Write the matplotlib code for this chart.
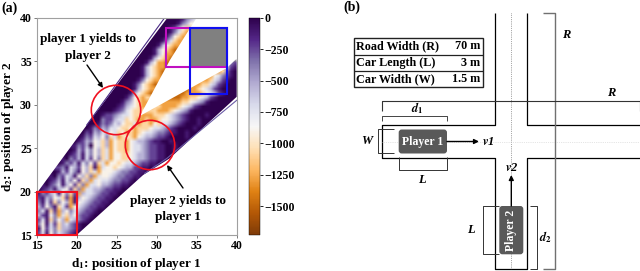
#!/usr/bin/env python3
# Yield map of the two players (a) and the intersection sketch (b)

import numpy as np
import matplotlib
matplotlib.use('Agg')
import matplotlib.pyplot as plt
from matplotlib.patches import Circle, FancyBboxPatch, Polygon, Rectangle

plt.rcParams['font.family'] = ['Liberation Serif', 'DejaVu Serif']
plt.rcParams['font.weight'] = 'bold'
plt.rcParams['mathtext.fontset'] = 'stix'

# ---- heat map, cell = 0.5 x 0.5, rows from d2=40 down ----
# one digit per cell, see level_values
level_values = [-10, -110, -240, -390, -550, -720, -900, -1080, -1280, -1480]

upper_start = [34, 33, 32, 31, 30, 29, 29, 28, 27, 26, 25, 25, 24, 23, 22, 21, 20, 20, 19, 18, 17, 16]
upper_cells = ["001345", "001346", "012467", "0013578", "0013678", "00135788",
               "0146788", "0146789", "00146889", "00146789", "00146889", "01467889",
               "00146789", "000146789", "000136788", "000136789", "0000146788",
               "000146789", "000136787", "0001346788", "0001245678", "0001235677"]

# first entry of the lower list is the row d2=34.5-35
lower_first_row = 10
lower_start = [48, 46, 44, 42, 41, 39, 37, 35, 33, 31, 30, 28,
               14, 14, 13, 12, 11, 10, 9, 9, 8, 7, 6, 5, 5, 4, 3, 2, 1, 0,
               0, 0, 0, 0, 0, 0, 0, 0, 0, 0]
lower_cells = ["32", "8521", "887310", "88653210", "887542100", "88775421000",
               "9887654210000", "998888765421000", "9998877654210000",
               "88888776543100000", "78888765421000000", "778887654310000000",
               "0012234556778887776543210000100", "003224557678878876654321001000",
               "001323546775877867554321000100", "01324355677687776554321000010",
               "02143546576878765543321100100", "01325463758767865443221000010",
               "01243657486778654432110010000", "1324065748677865543221100100",
               "0142536475867786554322110010", "0124153647586677654432211000",
               "1032415263758667765443221100", "013241536275866765543221100",
               "23154264718566765442211010", "01425316475866654332211000",
               "1032541647385665433221100", "0124153627485655433221010",
               "1023514627385564432211000", "012314562738554432211000",
               "13245163728455432211000", "2143657281465432211000",
               "31527364816543221100", "4263175286543221100", "35172846354322100",
               "4216385746322100", "251736485432100", "3615274532100",
               "162537443210", "25163543210"]

# outline of the filled region, the image is clipped to it
band_d1 = [15, 21.3, 31.35, 35, 31.7, 27.9, 38.75, 40, 40, 31.6, 28.3, 20, 15]
band_d2 = [19.8, 27.7, 40, 40, 35.2, 28.7, 34.2, 35.3, 30.9, 23.8, 21.9, 15, 15]

# thin stripes outside the white gaps along the band edges
stripe_up_d1 = [21.25, 31.0]
stripe_up_d2 = [27.65, 40.0]
stripe_low_d1 = [28.5, 31.25, 40.0]
stripe_low_d2 = [22.1, 23.8, 30.5]

ticks_d = [15, 20, 25, 30, 35, 40]
cbar_ticks = [0, -250, -500, -750, -1000, -1250, -1500]
value_min = -1730

table_left = ["Road Width (R)", "Car Length (L)", "Car Width (W)"]
table_right = ["70 m", "3 m", "1.5 m"]


def build_grid():
    grid = np.full((50, 50), np.nan)
    rows = list(enumerate(zip(upper_start, upper_cells)))
    rows += [(r + lower_first_row, v) for r, v in enumerate(zip(lower_start, lower_cells))]
    for r, (s, cells) in rows:
        for k, c in enumerate(cells):
            if s + k < 50:
                grid[r, s + k] = level_values[int(c)]
    # repeat the end cells past the outline so the clip decides the edge
    for r, (s, cells) in rows:
        for col, c in [(s - 1, cells[0]), (s - 2, cells[0]), (s - 3, cells[0]),
                       (s + len(cells), cells[-1]), (s + len(cells) + 1, cells[-1])]:
            if 0 <= col < 50 and np.isnan(grid[r, col]):
                grid[r, col] = level_values[int(c)]
    return np.ma.masked_invalid(grid)


fig = plt.figure(figsize=(6.4, 2.71), dpi=100)
W, H = 640., 271.

# ---- panel a ----
ax = fig.add_axes([36.7/W, 1 - 235/H, 200/W, 217.3/H])
im = ax.imshow(build_grid(), extent=[15, 40, 15, 40], origin='upper', aspect='auto',
               cmap='PuOr', vmin=value_min, vmax=0,
               interpolation='bilinear', interpolation_stage='rgba')
im.set_clip_path(Polygon(np.column_stack([band_d1, band_d2]), closed=True,
                         transform=ax.transData))
ax.plot(stripe_up_d1, stripe_up_d2, color='#4a2a85', lw=0.8)
ax.plot(stripe_low_d1, stripe_low_d2, color='#6a5aa5', lw=0.8)
ax.set_xlim(15, 40)
ax.set_ylim(15, 40)
ax.set_xticks(ticks_d)
ax.set_yticks(ticks_d)
ax.tick_params(labelsize=8.5, length=2, width=0.6, pad=1.5, color='#666666')
for s in ax.spines.values():
    s.set_color('#a0a0a0')
    s.set_linewidth(0.8)

ax.add_patch(Rectangle((34.2, 34.3), 4.55, 4.55, fc='#808080', ec='none', zorder=3))
ax.add_patch(Rectangle((15, 15), 5, 5, fc='none', ec='#f01020', lw=1.5, zorder=4, clip_on=False))
ax.add_patch(Rectangle((31.1, 34.3), 7.65, 4.55, fc='none', ec='#c010c0', lw=1.5, zorder=4))
ax.add_patch(Rectangle((34.2, 31.2), 4.55, 7.65, fc='none', ec='#1010f0', lw=1.5, zorder=5))

ax.set_xlabel(r'd$_{\mathbf{1}}$: position of player 1', fontsize=9.5, fontweight='bold', labelpad=3)
ax.set_ylabel(r'd$_{\mathbf{2}}$: position of player 2', fontsize=9.5, fontweight='bold', labelpad=3)

cax = fig.add_axes([249/W, 1 - 235/H, 11/W, 217.3/H])
cb = fig.colorbar(im, cax=cax)
cb.set_ticks(cbar_ticks)
cb.ax.tick_params(labelsize=8.5, length=2, width=0.6, pad=1.5)
cb.outline.set_linewidth(0.3)

# ---- overlay in pixel coords, annotations and panel b ----
ov = fig.add_axes([0, 0, 1, 1], zorder=10)
ov.set_xlim(0, W)
ov.set_ylim(H, 0)
ov.axis('off')
ov.patch.set_alpha(0)

ov.text(9, 8, '(a)', fontsize=10, ha='center', va='center')
ov.text(351.7, 7, '(b)', fontsize=10, ha='center', va='center')
ov.add_patch(Circle((116, 110), 24.7, fc='none', ec='#f01020', lw=1.2))
ov.add_patch(Circle((150, 145), 24.7, fc='none', ec='#f01020', lw=1.2))
ov.text(88, 39, 'player 1 yields to', fontsize=9.5, ha='center', va='center')
ov.text(88, 56, 'player 2', fontsize=9.5, ha='center', va='center')
ov.text(178, 201, 'player 2 yields to', fontsize=9.5, ha='center', va='center')
ov.text(178, 217, 'player 1', fontsize=9.5, ha='center', va='center')
arrow = dict(arrowstyle='-|>', color='k', lw=1, mutation_scale=7, shrinkA=0, shrinkB=0)
ov.annotate('', xy=(103, 88), xytext=(87, 65), arrowprops=arrow)
ov.annotate('', xy=(167, 165), xytext=(183, 188), arrowprops=arrow)


def line(xs, ys, c='k', lw=0.9, ls='-'):
    ov.plot(xs, ys, color=c, lw=lw, ls=ls, solid_capstyle='butt')


# road walls
line([495.3, 495.3, 382.3, 382.3, 495.3, 495.3, 527.3, 527.3, 640],
     [13, 125.3, 125.3, 157.7, 157.7, 269.3, 269.3, 157.7, 157.7])
line([527.3, 527.3, 640], [13, 125.3, 125.3])
line([511.3, 511.3], [13, 269], c='#555555', lw=0.5, ls=':')
line([382.3, 640], [141.5, 141.5], c='#cccccc', lw=0.5, ls=':')

# brackets
line([543, 555, 555, 543], [13, 13, 269, 269], c='#707070', lw=1)
line([382.3, 382.3, 640, 640], [111, 101.3, 101.3, 111], c='#333333', lw=0.8)
line([382.3, 382.3, 447, 447], [121, 116, 116, 121], c='#444444', lw=0.7)
line([394, 378, 378, 394], [129, 129, 153, 153], c='#333333', lw=0.7)
line([398.7, 398.7, 447, 447], [157, 170, 170, 157], c='#333333', lw=0.7)
line([499, 483, 483, 499], [206, 206, 254, 254], c='#333333', lw=0.7)
line([530, 536.7, 536.7, 530], [206, 206, 269, 269], c='#333333', lw=0.7)

# cars
ov.add_patch(FancyBboxPatch((400.7, 131.5), 44.3, 20, boxstyle='round,pad=2,rounding_size=3',
                            fc='#595959', ec='none', zorder=3))
ov.add_patch(FancyBboxPatch((501.3, 208), 20, 44.3, boxstyle='round,pad=2,rounding_size=3',
                            fc='#595959', ec='none', zorder=3))
ov.text(422.8, 141.5, 'Player 1', color='white', fontsize=8.5, ha='center', va='center', zorder=4)
ov.text(511.3, 230, 'Player 2', color='white', fontsize=8.5, ha='center', va='center',
        rotation=90, zorder=4)
ov.annotate('', xy=(479, 141.5), xytext=(447, 141.5), arrowprops=arrow)
ov.annotate('', xy=(511.3, 175), xytext=(511.3, 206), arrowprops=arrow)

# labels in the sketch
ital = dict(fontsize=9, style='italic', ha='center', va='center')
ov.text(566.7, 35, 'R', **ital)
ov.text(611.7, 93, 'R', **ital)
ov.text(416.7, 108, r'$\boldsymbol{d_1}$', **ital)
ov.text(367, 141.5, 'W', **ital)
ov.text(422, 180, 'L', **ital)
ov.text(470.7, 230, 'L', **ital)
ov.text(545, 237, r'$\boldsymbol{d_2}$', **ital)
ov.text(488, 142, r'$\boldsymbol{v}$1', **ital)
ov.text(512, 168, r'$\boldsymbol{v}$2', **ital)

# parameter table
table_y = [38, 54.7, 70.7, 87.3]
ov.add_patch(Rectangle((354, 38), 128.7, 49.3, fc='white', ec='#222222', lw=1))
for y in table_y[1:3]:
    line([354, 482.7], [y, y], c='#222222', lw=0.9)
for i in range(3):
    yc = (table_y[i] + table_y[i + 1]) / 2
    ov.text(356, yc, table_left[i], fontsize=8.7, ha='left', va='center')
    ov.text(480, yc, table_right[i], fontsize=8.7, ha='right', va='center')

fig.savefig('out.png', dpi=100)
